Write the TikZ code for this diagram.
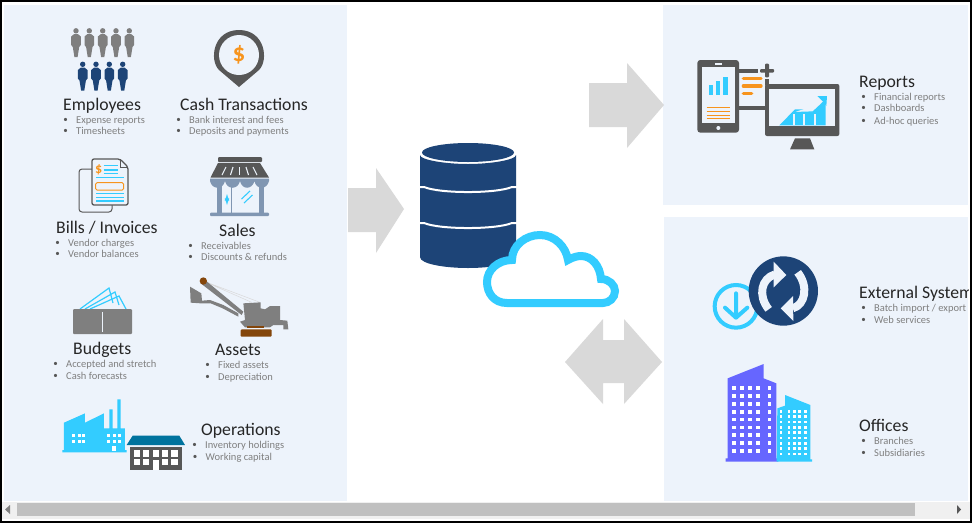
\documentclass[tikz,border=0pt]{standalone}
\usepackage{fontspec}
\setmainfont{Carlito}
\definecolor{panelblue}{HTML}{EDF3FB}
\definecolor{arrowgray}{HTML}{D9D9D9}
\definecolor{navy}{HTML}{1D4477}
\definecolor{skyblue}{HTML}{33CCFF}
\definecolor{darkgray}{HTML}{575757}
\definecolor{midgray}{HTML}{7F7F7F}
\definecolor{amber}{HTML}{F7941D}
\definecolor{steel}{HTML}{8096B2}
\definecolor{rust}{HTML}{84460B}
\definecolor{teal}{HTML}{00739E}
\definecolor{violet}{HTML}{6666FF}
\definecolor{barshade}{HTML}{C0C0C0}
\definecolor{barbg}{HTML}{F0F0F0}
\tikzset{
    person/.pic={
        \path[pic actions] (0,2.8) circle[radius=2.7];
        \path[pic actions] (-2,6.2) -- (2,6.2) -- (4.8,8.5) -- (4.8,17) -- (3.2,19) -- (1.6,29) -- (-1.6,29) -- (-3.2,19) -- (-4.8,17) -- (-4.8,8.5) -- cycle;
    },
}
\begin{document}
\begin{tikzpicture}[
            x=1pt, y=-1pt,
            panel/.style={fill=panelblue},
            blockarrow/.style={fill=arrowgray},
            heading/.style={anchor=west, inner sep=0pt, text=black!85, font=\fontsize{17.7}{20}\selectfont, text height=14pt, text depth=2pt},
            item/.style={anchor=west, inner sep=0pt, text=midgray, font=\fontsize{10.5}{12}\selectfont, text height=8pt, text depth=2pt,
                label={[text=darkgray, inner sep=0pt, label distance=8pt, font=\fontsize{9}{9}\selectfont]left:•}},
            money/.style={inner sep=0pt, text=amber, font=\bfseries\fontsize{25}{25}\selectfont},
            dbgap/.style={draw=white, line width=2pt},
            line/.style={draw=skyblue, line width=1.2pt},
        ]
            \useasboundingbox (0,0) rectangle (972,523);
            %% panels
            \fill[white] (0,0) rectangle (972,523);
            \fill[panel] (4,5) rectangle (347,501);
            \fill[panel] (663,5) rectangle (968,205);
            \fill[panel] (664,217) rectangle (968,501);
            %% scroll bar
            \fill[barbg] (2,502) rectangle (970,519);
            \fill[barshade] (17,503) rectangle (915,516);
            \fill[midgray] (5,509.5) -- (10,505) -- (10,514) -- cycle;
            \fill[darkgray] (961,509.5) -- (957,505) -- (957,514) -- cycle;
            \draw[black, line width=2pt] (1,1) rectangle (971,522);
            %% arrows
            \fill[blockarrow] (348,188) -- (376,188) -- (376,168) -- (404,209) -- (376,253) -- (376,232) -- (348,232) -- cycle;
            \fill[blockarrow] (589,83) -- (627,83) -- (627,63) -- (664,105) -- (627,148) -- (627,127) -- (589,127) -- cycle;
            \fill[blockarrow] (565,362) -- (603,319) -- (603,340) -- (624,340) -- (624,319) -- (662,362) -- (624,404) -- (624,383) -- (603,383) -- (603,404) -- cycle;
            %% database
            \fill[navy] (420,155) -- (420,257) .. controls (420,264) and (445,268) .. (468,268) .. controls (491,268) and (516,264) .. (516,257) -- (516,155) .. controls (516,160) and (490,164) .. (468,164) .. controls (446,164) and (420,160) .. (420,155) -- cycle;
            \fill[navy] (468,152.5) ellipse[x radius=46, y radius=9.5];
            \draw[dbgap] (419,187) -- (424,187) .. controls (440,193.7) and (496,193.7) .. (512,187) -- (517,187);
            \draw[dbgap] (419,223) -- (424,223) .. controls (440,229.7) and (496,229.7) .. (512,223) -- (517,223);
            %% cloud
            \draw[draw=skyblue, fill=white, line width=8pt] (507,303) .. controls (494,303) and (487,293) .. (487,282) .. controls (487,270) and (498,260) .. (512,260) .. controls (512,245) and (526,235) .. (540,235) .. controls (555,235) and (566,247) .. (568,260) .. controls (573,257) and (578,256) .. (581,256) .. controls (592,256) and (600,266) .. (601,279) .. controls (609,279) and (615,285) .. (615,291) .. controls (615,298) and (609,303) .. (603,303) -- cycle;
            %% employees
            \foreach \x in {76,89.3,102.7,116,129.3}
                \pic[fill=midgray] at (\x,28) {person};
            \foreach \x in {82.7,96,109.3,122.7}
                \pic[fill=navy] at (\x,61.5) {person};
            \node[heading] at (63,104) (employees) {Employees};
            \node[item] at (76,120) (expense) {Expense reports};
            \node[item] at (76,131.5) (timesheets) {Timesheets};
            %% cash
            \fill[darkgray] (239,87) -- (219,70) .. controls (209,60) and (213,30) .. (239,30) .. controls (265,30) and (269,60) .. (259,70) -- cycle;
            \fill[panel] (239,55) circle[radius=20];
            \node[money] at (239,55) (dollar) {\$};
            \node[heading] at (180,104) (cash) {Cash Transactions};
            \node[item] at (189,120) (interest) {Bank interest and fees};
            \node[item] at (189,131.5) (deposits) {Deposits and payments};
            %% bills
            \draw[draw=darkgray, line width=1pt, rounded corners=3pt] (110,169) -- (79,169) -- (79,212) -- (112,212) -- (112,200);
            \draw[draw=darkgray, fill=panelblue, line width=1.3pt, rounded corners=2pt] (92,159) -- (120,159) -- (128,167) -- (128,205) -- (92,205) -- cycle;
            \draw[draw=darkgray, line width=.7pt] (120,159) -- (120,167) -- (128,167);
            \foreach \y in {165.7,170,173.3}
                \draw[line] (103.5,\y) -- (118,\y);
            \foreach \y in {177.7,193.3,197.3,201}
                \draw[line] (96,\y) -- (123.5,\y);
            \draw[draw=amber, line width=1pt, rounded corners=1.5pt] (95.5,182.7) rectangle (123.7,190);
            \node[money, font=\bfseries\fontsize{14}{14}\selectfont] at (98.7,169.5) (billdollar) {\$};
            \node[heading] at (56,227) (bills) {Bills / Invoices};
            \node[item] at (68,243) (charges) {Vendor charges};
            \node[item] at (68,254.7) (balances) {Vendor balances};
            %% sales
            \fill[darkgray, rounded corners=1pt] (218,157) rectangle (262,162);
            \fill[darkgray] (218,163) -- (260,163) -- (269,177.5) -- (210.5,177.5) -- cycle;
            \foreach \a/\b in {226/222,233/230.5,239.5/239.5,246/248.5,253/257}
                \draw[draw=panelblue, line width=1.1pt] (\a,167) -- (\b,175);
            \fill[steel] (210,178.5) -- (269,178.5) -- (269,181) .. controls (267,190) and (256,190) .. (254.5,181) .. controls (252,190) and (242,190) .. (240,181) .. controls (238,190) and (227,190) .. (225,181) .. controls (223,190) and (212,190) .. (210,181) -- cycle;
            \fill[steel] (216.7,183) rectangle (221.7,213);
            \fill[steel] (230.7,185) rectangle (232.3,213);
            \fill[steel] (259.3,183) rectangle (264.3,213);
            \fill[steel, rounded corners=1pt] (210,212.5) rectangle (269,216);
            \draw[draw=skyblue, line width=1.2pt, <->, >=latex] (227,194) -- (227,205);
            \draw[draw=skyblue, line width=1.1pt] (241.5,199) -- (250,191) (244,203) -- (252.5,195);
            \node[heading] at (219,230) (sales) {Sales};
            \node[item] at (201,246) (receivables) {Receivables};
            \node[item] at (201,257.5) (discounts) {Discounts \& refunds};
            %% budgets
            \draw[line] (80,309) -- (109,288) -- (113,303);
            \draw[line] (85,309) -- (115,292) -- (119,305);
            \draw[line] (90,309) -- (119,296) -- (126,309);
            \fill[midgray, rounded corners=1pt] (73,309) rectangle (132,334);
            \draw[draw=panelblue, line width=1pt] (102.3,312) -- (102.3,332);
            \node[heading] at (73,348) (budgets) {Budgets};
            \node[item] at (66,364) (accepted) {Accepted and stretch};
            \node[item] at (66,376) (forecasts) {Cash forecasts};
            %% assets
            \begin{scope}[shift={(180,270)}, scale=1/3]
                \draw[draw=midgray!30, line width=.5pt] (70,33) -- (240,97) (70,33) -- (215,97);
                \fill[midgray] (30,50) -- (64,70) -- (66,92) -- (90,90) -- (130,105) -- (175,130) -- (175,140) -- (128,115) -- (92,100) -- (62,100) -- (32,98) -- cycle;
                \fill[midgray] (62,40) -- (75,30) -- (190,125) -- (185,135) -- cycle;
                \fill[midgray] (190,100) -- (242,97) -- (242,115) -- (255,118) -- (270,108) -- (300,108) -- (300,150) -- (322,152) -- (325,178) -- (310,178) -- (310,165) -- (280,165) -- (270,172) -- (195,172) -- (180,155) -- (195,150) -- cycle;
                \fill[rust] (70,33) circle[radius=11];
                \fill[rust] (200,168) rectangle (252,173);
                \fill[rust, rounded corners=1pt] (182,178) rectangle (275,200);
            \end{scope}
            \node[heading] at (215,349) (assets) {Assets};
            \node[item] at (218,365) (fixed) {Fixed assets};
            \node[item] at (218,377) (depreciation) {Depreciation};
            %% operations
            \begin{scope}[shift={(0,260)}, scale=1/3]
                \fill[skyblue] (192,488) -- (255,460) -- (255,488) -- (312,460) -- (312,505) -- (328,505) -- (328,448) -- (338,448) -- (338,505) -- (352,505) -- (352,418) -- (362,418) -- (362,505) -- (375,505) -- (375,570) -- (380,570) -- (380,577) -- (187,577) -- (187,570) -- (192,570) -- cycle;
                \foreach \x in {216,234,247,322,340,354}
                    \foreach \y in {523,541}
                        \fill[white] (\x,\y) rectangle ++(9,8);
                \fill[white] (336,558) rectangle (347,573);
                \fill[teal] (380,555) -- (398,527) -- (538,527) -- (555,555) -- cycle;
                \fill[darkgray] (390,560) rectangle (546,630);
                \foreach \a/\b in {401/421,430/448,458/476,485/505,513/535}
                    \fill[white] (\a,571) rectangle (\b,590);
                \foreach \a/\b in {401/421,430/448,485/505,513/535}
                    \fill[white] (\a,597) rectangle (\b,614);
                \fill[white] (458,600) rectangle (476,630);
            \end{scope}
            \node[heading] at (201,429) (operations) {Operations};
            \node[item] at (205,445) (inventory) {Inventory holdings};
            \node[item] at (205.5,457) (capital) {Working capital};
            %% reports
            \begin{scope}[shift={(660,40)}, scale=1/3]
                \fill[darkgray, rounded corners=3pt] (112,60) rectangle (237,278);
                \fill[panelblue] (125,80) rectangle (225,250);
                \fill[panelblue] (165,70) rectangle (185,74);
                \fill[panelblue] (175,264) circle[radius=6];
                \fill[skyblue] (147,136) rectangle (160,166);
                \fill[skyblue] (168,123) rectangle (181,166);
                \fill[skyblue] (190,110) rectangle (203,166);
                \foreach \y in {202,214,225,236}
                    \draw[draw=amber, line width=.8pt] (140,\y) -- (210,\y);
                \fill[darkgray] (237,86) rectangle (295,98);
                \fill[darkgray] (237,197) rectangle (320,210);
                \fill[darkgray] (315,118) rectangle (327,135);
                \fill[darkgray, rounded corners=1pt] (300,87) rectangle (342,98);
                \fill[darkgray, rounded corners=1pt] (315,71) rectangle (327,112);
                \foreach \a/\b in {303/115,303/138,275/161}
                    \draw[draw=amber, line width=3.3pt, line cap=round] (250,\b) -- (\a,\b);
                \fill[darkgray, rounded corners=2pt] (315,132) rectangle (538,288);
                \fill[panelblue] (328,148) rectangle (525,258);
                \fill[darkgray] (390,328) -- (405,295) -- (450,295) -- (463,328) -- cycle;
                \fill[skyblue] (358,256) -- (405,208) -- (460,208) -- (497,180) -- (497,256) -- cycle;
                \foreach \x in {400,430,463}
                    \fill[panelblue] (\x,222) rectangle ++(6,34);
                \draw[draw=skyblue, line width=1.3pt, fill=panelblue] (400,218) -- (459,216) -- (490,187);
                \fill[skyblue] (472,168) -- (501,168) -- (499,198) -- (490,186) -- cycle;
            \end{scope}
            \node[heading] at (859,81) (reports) {Reports};
            \node[item] at (874,97) (financial) {Financial reports};
            \node[item] at (874,108.5) (dashboards) {Dashboards};
            \node[item] at (874,121) (adhoc) {Ad-hoc queries};
            %% external systems
            \begin{scope}[shift={(660,240)}, scale=1/3]
                \draw[draw=skyblue, fill=panelblue, line width=4pt] (228,199) circle[radius=64];
                \draw[draw=skyblue, line width=4pt, line cap=round, line join=round] (228,160) -- (228,233) (195,203) -- (228,233) -- (262,203);
                \fill[navy] (370,153) circle[radius=104];
                \draw[draw=panelblue, line width=8pt] (326,208) .. controls (292,165) and (305,115) .. (345,103);
                \draw[draw=panelblue, line width=8pt] (413,97) .. controls (447,140) and (435,195) .. (398,205);
                \fill[panelblue] (341,65) -- (379,105) -- (341,142) -- cycle;
                \fill[panelblue] (399,168) -- (362,205) -- (400,243) -- cycle;
            \end{scope}
            \begin{scope}
                \clip (663,217) rectangle (968,501);
                \node[heading] at (859,292) (external) {External System};
            \end{scope}
            \node[item] at (874,308) (batch) {Batch import / export};
            \node[item] at (874,320) (services) {Web services};
            %% offices
            \begin{scope}[shift={(660,240)}, scale=1/3]
                \fill[violet] (203,415) -- (311,372) -- (311,415) -- (349,430) -- (349,655) -- (355,655) -- (355,665) -- (197,665) -- (197,655) -- (203,655) -- cycle;
                \foreach \x in {222,246,270,294,328}
                    \foreach \y in {444,467,491,515,538,562,585,608,632}
                        \fill[white] (\x-5.5,\y-5.5) rectangle ++(11,11);
                \fill[skyblue] (352,505) -- (375,497) -- (375,465) -- (451,495) -- (451,658) -- (456,658) -- (456,665) -- (350,665) -- cycle;
                \foreach \x in {363,387,403,419,436}
                    \foreach \y in {514,530,546,562,578,594,610,626,642}
                        \fill[white] (\x-4,\y-4) rectangle ++(8,8);
            \end{scope}
            \node[heading] at (859,425) (offices) {Offices};
            \node[item] at (874,441) (branches) {Branches};
            \node[item] at (874,453) (subsidiaries) {Subsidiaries};
\end{tikzpicture}
\end{document}
